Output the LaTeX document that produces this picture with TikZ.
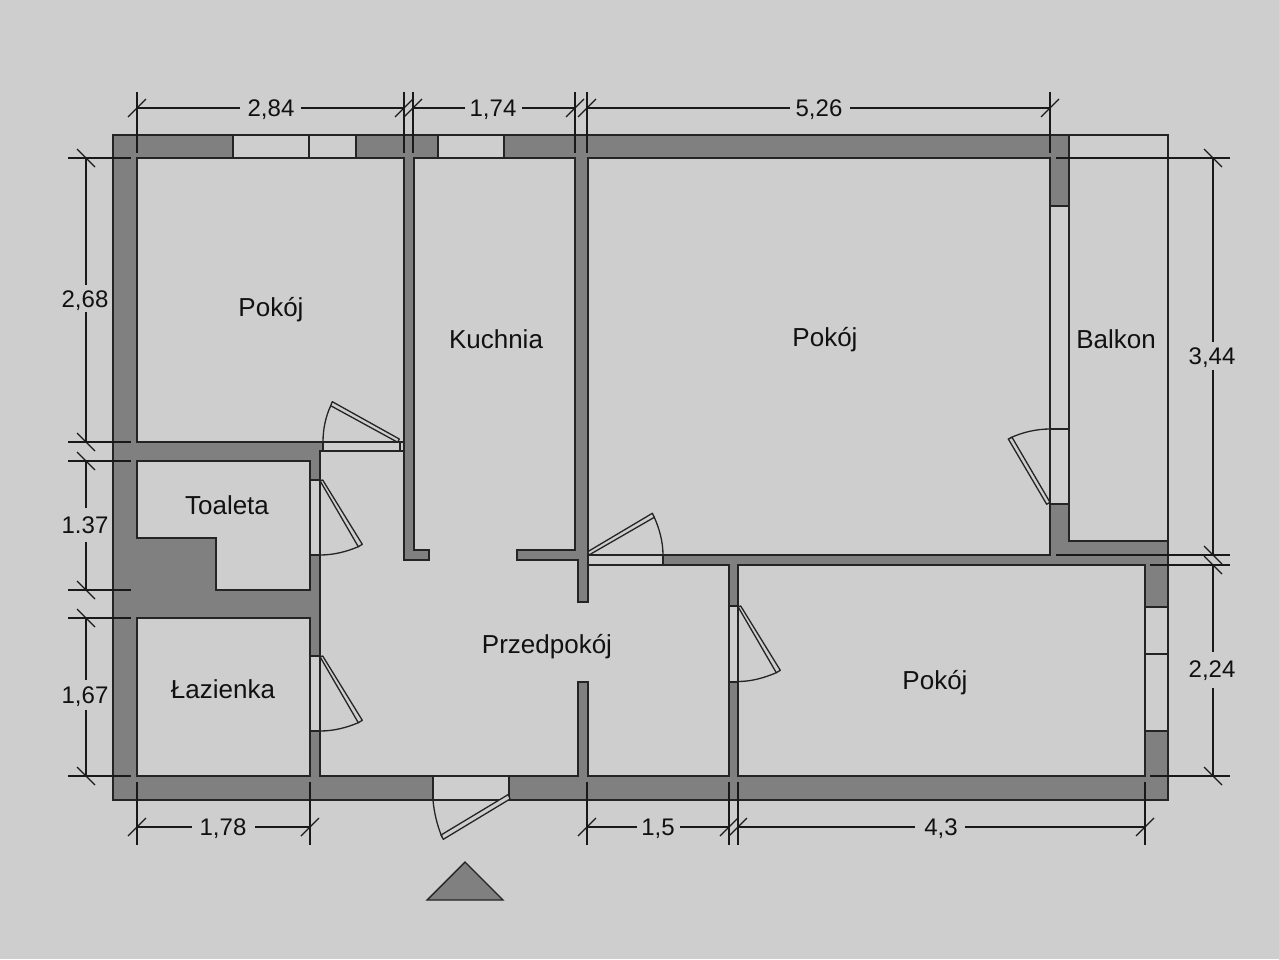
\documentclass[tikz,border=0pt]{standalone}
\usepackage{fontspec}
\setmainfont{Liberation Sans}
\definecolor{bgc}{HTML}{CECECE}
\definecolor{wallc}{HTML}{808080}
\definecolor{linec}{HTML}{242424}
\definecolor{textc}{HTML}{111111}
\tikzset{
  wall/.style={fill=wallc,draw=linec,line width=1.4pt,line join=miter},
  room/.style={fill=bgc,draw=linec,line width=1.4pt,line join=miter},
  glass/.style={fill=bgc,draw=linec,line width=1.3pt},
  leaf/.style={fill=bgc,draw=linec,line width=1.3pt,line join=round},
  swing/.style={draw=linec,line width=1.3pt},
  dimline/.style={draw=black!90,line width=1.2pt},
  roomlabel/.style={text=textc,font=\fontsize{26}{30}\selectfont,inner sep=0pt},
  dimlabel/.style={text=textc,font=\fontsize{24}{28}\selectfont,inner sep=0pt}
}
\begin{document}
\begin{tikzpicture}[x=1pt,y=-1pt]
\useasboundingbox (0,0) rectangle (1279,959);
\fill[bgc] (0,0) rectangle (1279,959);
% walls and balcony
\path[wall] (113,135) -- (1069,135) -- (1069,541) -- (1168,541) -- (1168,800) -- (113,800) -- cycle;
\draw[room] (1069,135) rectangle (1168,541);
% rooms
\path[room] (137,158) rectangle (404,442);
\path[room] (588,158) rectangle (1050,555);
\path[room] (738,565) rectangle (1145,776);
\path[room] (137,461) -- (310,461) -- (310,590) -- (216,590) -- (216,538) -- (137,538) -- cycle;
\path[room] (137,618) rectangle (310,776);
\path[room] (414,158) -- (575,158) -- (575,550) -- (517,550) -- (517,560) -- (578,560) -- (578,602) -- (588,602) -- (588,565) -- (729,565) -- (729,776) -- (588,776) -- (588,682) -- (578,682) -- (578,776) -- (320,776) -- (320,451) -- (404,451) -- (404,560) -- (429,560) -- (429,550) -- (414,550) -- cycle;
% windows and door openings
\foreach \a/\b/\c/\d in {233/135/309/158,309/135/356/158,438/135/504/158,1050/206/1069/429,1050/429/1069/504,1145/607/1168/654,1145/654/1168/731,310/480/320/555,310/656/320/731,729/606/738/682,323/442/404/451,588/555/663/565,433/776/509/800}
  \path[glass] (\a,\b) rectangle (\c,\d);
\draw[glass] (400,442) -- (400,451);
% door leaves and swings
\path[leaf] (399.3,439) -- (332.3,401.7) -- (330.7,405.7) -- (397.7,442.3) -- cycle;
\path[swing] (330.7,405.7) .. controls (326,416) and (323,428) .. (323,442);
\path[leaf] (320,480.7) -- (322.7,480) -- (362.3,544.3) -- (358.3,546.7) -- cycle;
\path[swing] (358.3,546.7) .. controls (347,551.5) and (334,555) .. (320,555);
\path[leaf] (320,656.7) -- (322.7,656) -- (362.3,720.3) -- (358.3,722.7) -- cycle;
\path[swing] (358.3,722.7) .. controls (347,727.5) and (334,731) .. (320,731);
\path[leaf] (738,606.7) -- (740.7,606) -- (780.3,670.3) -- (776.3,672.7) -- cycle;
\path[swing] (776.3,672.7) .. controls (765,677.5) and (752,681.5) .. (738,681.5);
\path[leaf] (587.7,551.7) -- (652.3,513.3) -- (654.3,517.3) -- (589,555) -- cycle;
\path[swing] (654.3,517.3) .. controls (659,528) and (663,541) .. (663,555);
\path[leaf] (1046.7,504.3) -- (1050,502.3) -- (1012,437.3) -- (1008.3,439) -- cycle;
\path[swing] (1010,438) .. controls (1023,432) and (1037,429) .. (1050,429);
\path[leaf] (508.3,794.5) -- (510,799) -- (443.3,839.3) -- (441,835) -- cycle;
\path[swing] (433,800) .. controls (434,812) and (437,825) .. (442,837);
% north triangle
\path[room,fill=wallc] (427,900) -- (465,862) -- (503,900) -- cycle;
% dimension extension lines
\foreach \x/\ya/\yb in {137/92/153,404/92/153,413/92/153,575/92/153,587/92/153,1050/92/153,137/782/845,310/782/845,587/782/845,729/782/845,738/782/845,1145/782/845}
  \draw[dimline] (\x,\ya) -- (\x,\yb);
\foreach \y/\xa/\xb in {158/68/131,442/68/131,461/68/131,590/68/131,618/68/131,776/68/131,158/1056/1230,555/1056/1230,565/1150/1230,776/1150/1230}
  \draw[dimline] (\xa,\y) -- (\xb,\y);
% dimension lines, broken for their labels
\foreach \y/\a/\b/\c/\d in {108/137/240/301/404,108/413/465/522/575,108/587/790/850/1050,827/137/192/255/310,827/587/637/680/729,827/738/915/965/1145}{
  \draw[dimline] (\a,\y) -- (\b,\y) (\c,\y) -- (\d,\y);
}
\foreach \x/\a/\b/\c/\d in {86/158/285/312/442,86/461/508/542/590,86/618/680/710/776,1213/158/342/370/555,1213/565/652/688/776}{
  \draw[dimline] (\x,\a) -- (\x,\b) (\x,\c) -- (\x,\d);
}
% ticks
\foreach \x/\y in {137/108,404/108,413/108,575/108,587/108,1050/108,137/827,310/827,587/827,729/827,738/827,1145/827}
  \draw[dimline] (\x-9,\y+9) -- (\x+9,\y-9);
\foreach \x/\y in {86/158,86/442,86/461,86/590,86/618,86/776,1213/158,1213/555,1213/565,1213/776}
  \draw[dimline] (\x-9,\y-9) -- (\x+9,\y+9);
% labels
\node[roomlabel] (r1) at (271,309.5) {Pokój};
\node[roomlabel] (r2) at (496,339) {Kuchnia};
\node[roomlabel] (r3) at (825,340) {Pokój};
\node[roomlabel] (r4) at (1116,339) {Balkon};
\node[roomlabel] (r5) at (227,505) {Toaleta};
\node[roomlabel] (r6) at (223,689.5) {Łazienka};
\node[roomlabel] (r7) at (547,647) {Przedpokój};
\node[roomlabel] (r8) at (935,683) {Pokój};
\node[dimlabel] (d1) at (271,110) {2,84};
\node[dimlabel] (d2) at (493,110) {1,74};
\node[dimlabel] (d3) at (819,110) {5,26};
\node[dimlabel] (d4) at (85,301) {2,68};
\node[dimlabel] (d5) at (85,525.5) {1.37};
\node[dimlabel] (d6) at (85,697) {1,67};
\node[dimlabel] (d7) at (1212,358) {3,44};
\node[dimlabel] (d8) at (1212,671) {2,24};
\node[dimlabel] (d9) at (223,828.5) {1,78};
\node[dimlabel] (d10) at (658,828.5) {1,5};
\node[dimlabel] (d11) at (941,828.5) {4,3};
\end{tikzpicture}
\end{document}
